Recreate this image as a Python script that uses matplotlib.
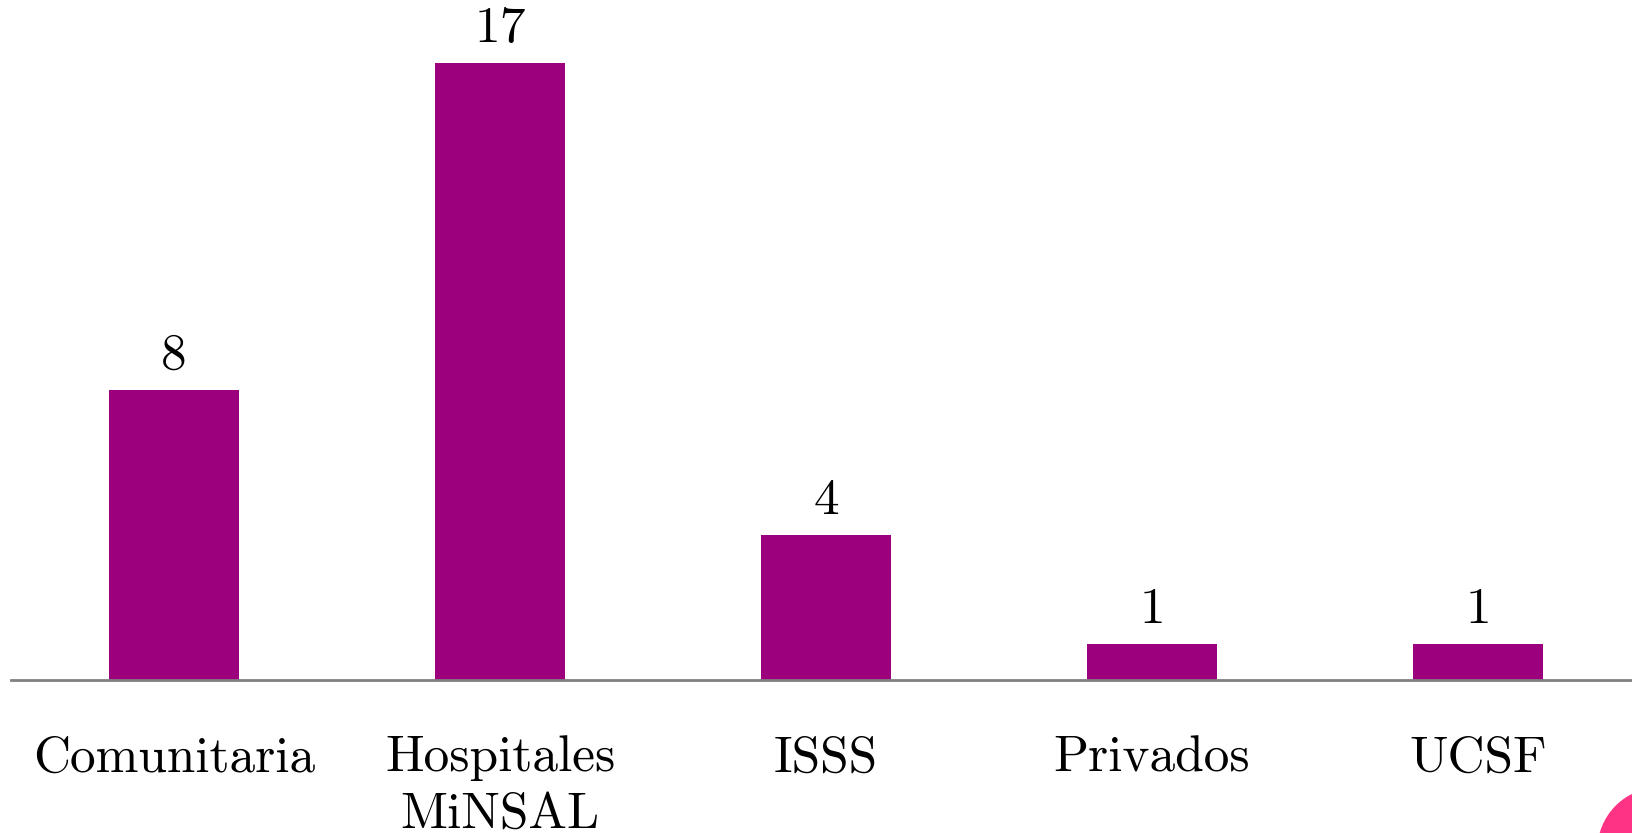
import matplotlib
matplotlib.use("Agg")
import matplotlib.pyplot as plt
from matplotlib.patches import Circle

plt.rcParams['font.family'] = ['cmr10', 'DejaVu Serif']
plt.rcParams['axes.formatter.use_mathtext'] = True

# datos
categorias = ['Comunitaria', 'Hospitales\nMiNSAL', 'ISSS', 'Privados', 'UCSF']
valores = [8, 17, 4, 1, 1]

color_barra = '#9c007c'

fig = plt.figure(figsize=(16.32, 8.33), dpi=100)
ax = fig.add_axes([11 / 1632, 153 / 833, 1630 / 1632, 18 * 36.3 / 833])

x = list(range(len(categorias)))
barras = ax.bar(x, valores, width=0.4, color=color_barra)

# etiquetas de valor
for xi, v in zip(x, valores):
    ax.annotate(str(v), (xi, v), xytext=(0, 8), textcoords='offset points',
                ha='center', va='bottom', fontsize=37)

ax.set_xlim(-0.5, 4.5)
ax.set_ylim(0, 18)
ax.set_xticks(x)
ax.set_xticklabels(categorias, fontsize=37, linespacing=1.3)
ax.tick_params(axis='x', length=0, pad=40)
ax.set_yticks([])

for lado in ['top', 'right', 'left']:
    ax.spines[lado].set_visible(False)
ax.spines['bottom'].set_color('#808080')
ax.spines['bottom'].set_linewidth(2)

# circulo decorativo
fig.patches.append(Circle((1660, 833 - 850), 62, transform=None,
                          color='#ff3385', zorder=10))

fig.savefig('out.png', dpi=100)
